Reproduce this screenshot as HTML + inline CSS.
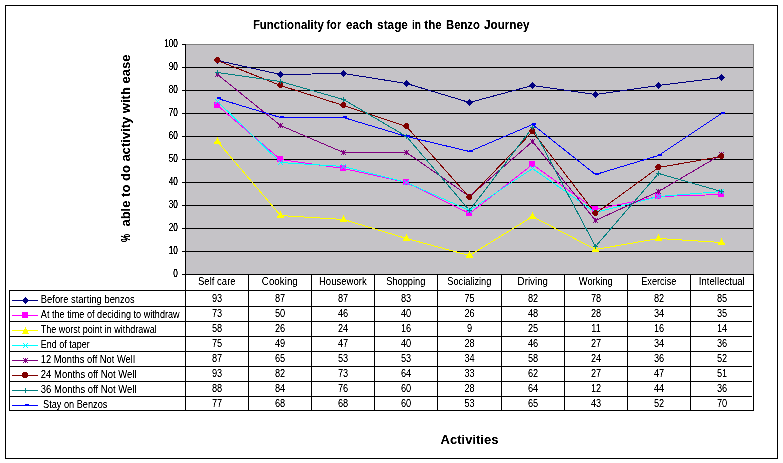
<!DOCTYPE html><html><head><meta charset="utf-8"><title>Functionality for each stage in the Benzo Journey</title>
<style>html,body{margin:0;padding:0;background:#fff;width:783px;height:463px;overflow:hidden}svg{display:block;will-change:transform}text{font-family:"Liberation Sans",Arial,sans-serif;fill:#000}</style></head><body>
<svg width="783" height="463" viewBox="0 0 783 463" shape-rendering="crispEdges">
<defs><filter id="a" filterUnits="userSpaceOnUse" x="0" y="0" width="783" height="463"><feComponentTransfer><feFuncA type="linear" slope="2" intercept="-0.4"/></feComponentTransfer></filter><filter id="b" filterUnits="userSpaceOnUse" x="0" y="0" width="783" height="463"><feComponentTransfer><feFuncA type="linear" slope="3" intercept="-0.5"/></feComponentTransfer></filter></defs>
<rect x="5.5" y="5.5" width="772" height="453" fill="#fff" stroke="#000" stroke-width="1"/>
<rect x="185" y="44" width="568" height="230" fill="#C5C3C7"/>
<path d="M185,44.5H753.5M753.5,44V274" stroke="#808080" stroke-width="1" fill="none"/>
<path d="M185,67.5H753M185,90.5H753M185,113.5H753M185,136.5H753M185,159.5H753M185,182.5H753M185,205.5H753M185,228.5H753M185,251.5H753" stroke="#000" stroke-width="1" fill="none" shape-rendering="crispEdges"/>
<polyline points="217.5,60.5 280.5,74.5 343.5,73.5 406.5,83.5 469.5,102.5 532.5,85.5 595.5,94.5 658.5,85.5 721.5,77.5" fill="none" stroke="#000080" stroke-width="1" shape-rendering="crispEdges"/>
<polyline points="217.5,105.5 280.5,159.5 343.5,168.5 406.5,182.5 469.5,213.5 532.5,164.5 595.5,209.5 658.5,196.5 721.5,194.5" fill="none" stroke="#FF00FF" stroke-width="1" shape-rendering="crispEdges"/>
<polyline points="217.5,141.5 280.5,215.5 343.5,219.5 406.5,238.5 469.5,255.5 532.5,216.5 595.5,249.5 658.5,238.5 721.5,242.5" fill="none" stroke="#FFFF00" stroke-width="1" shape-rendering="crispEdges"/>
<polyline points="217.5,101.5 280.5,162.5 343.5,166.5 406.5,182.5 469.5,210.5 532.5,168.5 595.5,212.5 658.5,196.5 721.5,191.5" fill="none" stroke="#00FFFF" stroke-width="1" shape-rendering="crispEdges"/>
<polyline points="217.5,74.5 280.5,125.5 343.5,152.5 406.5,152.5 469.5,196.5 532.5,141.5 595.5,220.5 658.5,191.5 721.5,154.5" fill="none" stroke="#800080" stroke-width="1" shape-rendering="crispEdges"/>
<polyline points="217.5,60.5 280.5,85.5 343.5,105.5 406.5,126.5 469.5,197.5 532.5,131.5 595.5,213.5 658.5,167.5 721.5,156.5" fill="none" stroke="#800000" stroke-width="1" shape-rendering="crispEdges"/>
<polyline points="217.5,72.5 280.5,81.5 343.5,99.5 406.5,136.5 469.5,210.5 532.5,127.5 595.5,246.5 658.5,173.5 721.5,191.5" fill="none" stroke="#008080" stroke-width="1" shape-rendering="crispEdges"/>
<polyline points="217.5,98.5 280.5,117.5 343.5,117.5 406.5,136.5 469.5,151.5 532.5,124.5 595.5,174.5 658.5,155.5 721.5,113.5" fill="none" stroke="#0000FF" stroke-width="1" shape-rendering="crispEdges"/>
<path d="M217,57h1v1h-1zM216,58h3v1h-3zM215,59h5v1h-5zM214,60h7v1h-7zM215,61h5v1h-5zM216,62h3v1h-3zM217,63h1v1h-1z" fill="#000080"/>
<path d="M280,71h1v1h-1zM279,72h3v1h-3zM278,73h5v1h-5zM277,74h7v1h-7zM278,75h5v1h-5zM279,76h3v1h-3zM280,77h1v1h-1z" fill="#000080"/>
<path d="M343,70h1v1h-1zM342,71h3v1h-3zM341,72h5v1h-5zM340,73h7v1h-7zM341,74h5v1h-5zM342,75h3v1h-3zM343,76h1v1h-1z" fill="#000080"/>
<path d="M406,80h1v1h-1zM405,81h3v1h-3zM404,82h5v1h-5zM403,83h7v1h-7zM404,84h5v1h-5zM405,85h3v1h-3zM406,86h1v1h-1z" fill="#000080"/>
<path d="M469,99h1v1h-1zM468,100h3v1h-3zM467,101h5v1h-5zM466,102h7v1h-7zM467,103h5v1h-5zM468,104h3v1h-3zM469,105h1v1h-1z" fill="#000080"/>
<path d="M532,82h1v1h-1zM531,83h3v1h-3zM530,84h5v1h-5zM529,85h7v1h-7zM530,86h5v1h-5zM531,87h3v1h-3zM532,88h1v1h-1z" fill="#000080"/>
<path d="M595,91h1v1h-1zM594,92h3v1h-3zM593,93h5v1h-5zM592,94h7v1h-7zM593,95h5v1h-5zM594,96h3v1h-3zM595,97h1v1h-1z" fill="#000080"/>
<path d="M658,82h1v1h-1zM657,83h3v1h-3zM656,84h5v1h-5zM655,85h7v1h-7zM656,86h5v1h-5zM657,87h3v1h-3zM658,88h1v1h-1z" fill="#000080"/>
<path d="M721,74h1v1h-1zM720,75h3v1h-3zM719,76h5v1h-5zM718,77h7v1h-7zM719,78h5v1h-5zM720,79h3v1h-3zM721,80h1v1h-1z" fill="#000080"/>
<path d="M214,102h6v6h-6z" fill="#FF00FF"/>
<path d="M277,156h6v6h-6z" fill="#FF00FF"/>
<path d="M340,165h6v6h-6z" fill="#FF00FF"/>
<path d="M403,179h6v6h-6z" fill="#FF00FF"/>
<path d="M466,210h6v6h-6z" fill="#FF00FF"/>
<path d="M529,161h6v6h-6z" fill="#FF00FF"/>
<path d="M592,206h6v6h-6z" fill="#FF00FF"/>
<path d="M655,193h6v6h-6z" fill="#FF00FF"/>
<path d="M718,191h6v6h-6z" fill="#FF00FF"/>
<path d="M217,137h1v1h-1zM217,138h1v1h-1zM216,139h3v1h-3zM216,140h3v1h-3zM215,141h5v1h-5zM214,142h7v1h-7zM214,143h7v1h-7z" fill="#FFFF00"/>
<path d="M280,211h1v1h-1zM280,212h1v1h-1zM279,213h3v1h-3zM279,214h3v1h-3zM278,215h5v1h-5zM277,216h7v1h-7zM277,217h7v1h-7z" fill="#FFFF00"/>
<path d="M343,215h1v1h-1zM343,216h1v1h-1zM342,217h3v1h-3zM342,218h3v1h-3zM341,219h5v1h-5zM340,220h7v1h-7zM340,221h7v1h-7z" fill="#FFFF00"/>
<path d="M406,234h1v1h-1zM406,235h1v1h-1zM405,236h3v1h-3zM405,237h3v1h-3zM404,238h5v1h-5zM403,239h7v1h-7zM403,240h7v1h-7z" fill="#FFFF00"/>
<path d="M469,251h1v1h-1zM469,252h1v1h-1zM468,253h3v1h-3zM468,254h3v1h-3zM467,255h5v1h-5zM466,256h7v1h-7zM466,257h7v1h-7z" fill="#FFFF00"/>
<path d="M532,212h1v1h-1zM532,213h1v1h-1zM531,214h3v1h-3zM531,215h3v1h-3zM530,216h5v1h-5zM529,217h7v1h-7zM529,218h7v1h-7z" fill="#FFFF00"/>
<path d="M595,245h1v1h-1zM595,246h1v1h-1zM594,247h3v1h-3zM594,248h3v1h-3zM593,249h5v1h-5zM592,250h7v1h-7zM592,251h7v1h-7z" fill="#FFFF00"/>
<path d="M658,234h1v1h-1zM658,235h1v1h-1zM657,236h3v1h-3zM657,237h3v1h-3zM656,238h5v1h-5zM655,239h7v1h-7zM655,240h7v1h-7z" fill="#FFFF00"/>
<path d="M721,238h1v1h-1zM721,239h1v1h-1zM720,240h3v1h-3zM720,241h3v1h-3zM719,242h5v1h-5zM718,243h7v1h-7zM718,244h7v1h-7z" fill="#FFFF00"/>
<path d="M215,99h1v1h-1zM215,103h1v1h-1zM216,100h1v1h-1zM216,102h1v1h-1zM217,101h1v1h-1zM217,101h1v1h-1zM218,102h1v1h-1zM218,100h1v1h-1zM219,103h1v1h-1zM219,99h1v1h-1z" fill="#00FFFF"/>
<path d="M278,160h1v1h-1zM278,164h1v1h-1zM279,161h1v1h-1zM279,163h1v1h-1zM280,162h1v1h-1zM280,162h1v1h-1zM281,163h1v1h-1zM281,161h1v1h-1zM282,164h1v1h-1zM282,160h1v1h-1z" fill="#00FFFF"/>
<path d="M341,164h1v1h-1zM341,168h1v1h-1zM342,165h1v1h-1zM342,167h1v1h-1zM343,166h1v1h-1zM343,166h1v1h-1zM344,167h1v1h-1zM344,165h1v1h-1zM345,168h1v1h-1zM345,164h1v1h-1z" fill="#00FFFF"/>
<path d="M404,180h1v1h-1zM404,184h1v1h-1zM405,181h1v1h-1zM405,183h1v1h-1zM406,182h1v1h-1zM406,182h1v1h-1zM407,183h1v1h-1zM407,181h1v1h-1zM408,184h1v1h-1zM408,180h1v1h-1z" fill="#00FFFF"/>
<path d="M467,208h1v1h-1zM467,212h1v1h-1zM468,209h1v1h-1zM468,211h1v1h-1zM469,210h1v1h-1zM469,210h1v1h-1zM470,211h1v1h-1zM470,209h1v1h-1zM471,212h1v1h-1zM471,208h1v1h-1z" fill="#00FFFF"/>
<path d="M530,166h1v1h-1zM530,170h1v1h-1zM531,167h1v1h-1zM531,169h1v1h-1zM532,168h1v1h-1zM532,168h1v1h-1zM533,169h1v1h-1zM533,167h1v1h-1zM534,170h1v1h-1zM534,166h1v1h-1z" fill="#00FFFF"/>
<path d="M593,210h1v1h-1zM593,214h1v1h-1zM594,211h1v1h-1zM594,213h1v1h-1zM595,212h1v1h-1zM595,212h1v1h-1zM596,213h1v1h-1zM596,211h1v1h-1zM597,214h1v1h-1zM597,210h1v1h-1z" fill="#00FFFF"/>
<path d="M656,194h1v1h-1zM656,198h1v1h-1zM657,195h1v1h-1zM657,197h1v1h-1zM658,196h1v1h-1zM658,196h1v1h-1zM659,197h1v1h-1zM659,195h1v1h-1zM660,198h1v1h-1zM660,194h1v1h-1z" fill="#00FFFF"/>
<path d="M719,189h1v1h-1zM719,193h1v1h-1zM720,190h1v1h-1zM720,192h1v1h-1zM721,191h1v1h-1zM721,191h1v1h-1zM722,192h1v1h-1zM722,190h1v1h-1zM723,193h1v1h-1zM723,189h1v1h-1z" fill="#00FFFF"/>
<path d="M215,72h1v1h-1zM215,76h1v1h-1zM217,72h1v1h-1zM217,76h1v1h-1zM219,72h1v1h-1zM219,76h1v1h-1zM216,73h3v3h-3z" fill="#800080"/>
<path d="M278,123h1v1h-1zM278,127h1v1h-1zM280,123h1v1h-1zM280,127h1v1h-1zM282,123h1v1h-1zM282,127h1v1h-1zM279,124h3v3h-3z" fill="#800080"/>
<path d="M341,150h1v1h-1zM341,154h1v1h-1zM343,150h1v1h-1zM343,154h1v1h-1zM345,150h1v1h-1zM345,154h1v1h-1zM342,151h3v3h-3z" fill="#800080"/>
<path d="M404,150h1v1h-1zM404,154h1v1h-1zM406,150h1v1h-1zM406,154h1v1h-1zM408,150h1v1h-1zM408,154h1v1h-1zM405,151h3v3h-3z" fill="#800080"/>
<path d="M467,194h1v1h-1zM467,198h1v1h-1zM469,194h1v1h-1zM469,198h1v1h-1zM471,194h1v1h-1zM471,198h1v1h-1zM468,195h3v3h-3z" fill="#800080"/>
<path d="M530,139h1v1h-1zM530,143h1v1h-1zM532,139h1v1h-1zM532,143h1v1h-1zM534,139h1v1h-1zM534,143h1v1h-1zM531,140h3v3h-3z" fill="#800080"/>
<path d="M593,218h1v1h-1zM593,222h1v1h-1zM595,218h1v1h-1zM595,222h1v1h-1zM597,218h1v1h-1zM597,222h1v1h-1zM594,219h3v3h-3z" fill="#800080"/>
<path d="M656,189h1v1h-1zM656,193h1v1h-1zM658,189h1v1h-1zM658,193h1v1h-1zM660,189h1v1h-1zM660,193h1v1h-1zM657,190h3v3h-3z" fill="#800080"/>
<path d="M719,152h1v1h-1zM719,156h1v1h-1zM721,152h1v1h-1zM721,156h1v1h-1zM723,152h1v1h-1zM723,156h1v1h-1zM720,153h3v3h-3z" fill="#800080"/>
<path d="M216,57h3v1h-3zM215,58h5v1h-5zM214,59h6v1h-6zM214,60h6v1h-6zM215,61h5v1h-5zM216,62h3v1h-3z" fill="#800000"/>
<path d="M279,82h3v1h-3zM278,83h5v1h-5zM277,84h6v1h-6zM277,85h6v1h-6zM278,86h5v1h-5zM279,87h3v1h-3z" fill="#800000"/>
<path d="M342,102h3v1h-3zM341,103h5v1h-5zM340,104h6v1h-6zM340,105h6v1h-6zM341,106h5v1h-5zM342,107h3v1h-3z" fill="#800000"/>
<path d="M405,123h3v1h-3zM404,124h5v1h-5zM403,125h6v1h-6zM403,126h6v1h-6zM404,127h5v1h-5zM405,128h3v1h-3z" fill="#800000"/>
<path d="M468,194h3v1h-3zM467,195h5v1h-5zM466,196h6v1h-6zM466,197h6v1h-6zM467,198h5v1h-5zM468,199h3v1h-3z" fill="#800000"/>
<path d="M531,128h3v1h-3zM530,129h5v1h-5zM529,130h6v1h-6zM529,131h6v1h-6zM530,132h5v1h-5zM531,133h3v1h-3z" fill="#800000"/>
<path d="M594,210h3v1h-3zM593,211h5v1h-5zM592,212h6v1h-6zM592,213h6v1h-6zM593,214h5v1h-5zM594,215h3v1h-3z" fill="#800000"/>
<path d="M657,164h3v1h-3zM656,165h5v1h-5zM655,166h6v1h-6zM655,167h6v1h-6zM656,168h5v1h-5zM657,169h3v1h-3z" fill="#800000"/>
<path d="M720,153h3v1h-3zM719,154h5v1h-5zM718,155h6v1h-6zM718,156h6v1h-6zM719,157h5v1h-5zM720,158h3v1h-3z" fill="#800000"/>
<path d="M217,70h1v5h-1zM215,72h5v1h-5z" fill="#008080"/>
<path d="M280,79h1v5h-1zM278,81h5v1h-5z" fill="#008080"/>
<path d="M343,97h1v5h-1zM341,99h5v1h-5z" fill="#008080"/>
<path d="M406,134h1v5h-1zM404,136h5v1h-5z" fill="#008080"/>
<path d="M469,208h1v5h-1zM467,210h5v1h-5z" fill="#008080"/>
<path d="M532,125h1v5h-1zM530,127h5v1h-5z" fill="#008080"/>
<path d="M595,244h1v5h-1zM593,246h5v1h-5z" fill="#008080"/>
<path d="M658,171h1v5h-1zM656,173h5v1h-5z" fill="#008080"/>
<path d="M721,189h1v5h-1zM719,191h5v1h-5z" fill="#008080"/>
<path d="M217,97h4v2h-4z" fill="#0000FF"/>
<path d="M280,116h4v2h-4z" fill="#0000FF"/>
<path d="M343,116h4v2h-4z" fill="#0000FF"/>
<path d="M406,135h4v2h-4z" fill="#0000FF"/>
<path d="M469,150h4v2h-4z" fill="#0000FF"/>
<path d="M532,123h4v2h-4z" fill="#0000FF"/>
<path d="M595,173h4v2h-4z" fill="#0000FF"/>
<path d="M658,154h4v2h-4z" fill="#0000FF"/>
<path d="M721,112h4v2h-4z" fill="#0000FF"/>
<path d="M185.5,44V411M185,274.5H754M182,44.5H185M182,67.5H185M182,90.5H185M182,113.5H185M182,136.5H185M182,159.5H185M182,182.5H185M182,205.5H185M182,228.5H185M182,251.5H185M182,274.5H185M9,290.5H754M9,306.5H752M9,321.5H752M9,336.5H752M9,351.5H752M9,366.5H752M9,381.5H752M9,396.5H752M9,410.5H754M9.5,290V411M248.5,274V411M311.5,274V411M374.5,274V411M437.5,274V411M501.5,274V411M564.5,274V411M627.5,274V411M690.5,274V411M753.5,274V411" stroke="#000" stroke-width="1" fill="none" shape-rendering="crispEdges"/>
<path d="M12,300.5H38" stroke="#000080" stroke-width="1" shape-rendering="crispEdges"/>
<path d="M25,297h1v1h-1zM24,298h3v1h-3zM23,299h5v1h-5zM22,300h7v1h-7zM23,301h5v1h-5zM24,302h3v1h-3zM25,303h1v1h-1z" fill="#000080"/>
<path d="M12,315.5H38" stroke="#FF00FF" stroke-width="1" shape-rendering="crispEdges"/>
<rect x="22" y="312" width="6" height="6" fill="#FF00FF" shape-rendering="crispEdges"/>
<path d="M12,330.5H38" stroke="#FFFF00" stroke-width="1" shape-rendering="crispEdges"/>
<polygon points="25.5,327 29,334 22,334" fill="#FFFF00"/>
<path d="M12,345.5H38" stroke="#00FFFF" stroke-width="1" shape-rendering="crispEdges"/>
<path d="M23,343h1v1h-1zM23,347h1v1h-1zM24,344h1v1h-1zM24,346h1v1h-1zM25,345h1v1h-1zM25,345h1v1h-1zM26,346h1v1h-1zM26,344h1v1h-1zM27,347h1v1h-1zM27,343h1v1h-1z" fill="#00FFFF"/>
<path d="M12,360.5H38" stroke="#800080" stroke-width="1" shape-rendering="crispEdges"/>
<path d="M23,358h1v1h-1zM23,362h1v1h-1zM25,358h1v1h-1zM25,362h1v1h-1zM27,358h1v1h-1zM27,362h1v1h-1zM24,359h3v3h-3z" fill="#800080"/>
<path d="M12,375.5H38" stroke="#800000" stroke-width="1" shape-rendering="crispEdges"/>
<circle cx="25" cy="375" r="3" fill="#800000"/>
<path d="M12,390.5H38" stroke="#008080" stroke-width="1" shape-rendering="crispEdges"/>
<path d="M25,388h1v5h-1zM23,390h5v1h-5z" fill="#008080"/>
<path d="M12,405.5H38" stroke="#0000FF" stroke-width="1" shape-rendering="crispEdges"/>
<rect x="25" y="404" width="4" height="2" fill="#0000FF" shape-rendering="crispEdges"/>
<g filter="url(#b)">
<text transform="translate(177.9,47) scale(0.82,1)" text-anchor="end" font-size="10">100</text>
<text transform="translate(177.9,70) scale(0.82,1)" text-anchor="end" font-size="10">90</text>
<text transform="translate(177.9,93) scale(0.82,1)" text-anchor="end" font-size="10">80</text>
<text transform="translate(177.9,116) scale(0.82,1)" text-anchor="end" font-size="10">70</text>
<text transform="translate(177.9,139) scale(0.82,1)" text-anchor="end" font-size="10">60</text>
<text transform="translate(177.9,162) scale(0.82,1)" text-anchor="end" font-size="10">50</text>
<text transform="translate(177.9,185) scale(0.82,1)" text-anchor="end" font-size="10">40</text>
<text transform="translate(177.9,208) scale(0.82,1)" text-anchor="end" font-size="10">30</text>
<text transform="translate(177.9,231) scale(0.82,1)" text-anchor="end" font-size="10">20</text>
<text transform="translate(177.9,254) scale(0.82,1)" text-anchor="end" font-size="10">10</text>
<text transform="translate(177.9,277) scale(0.82,1)" text-anchor="end" font-size="10">0</text>
</g>
<g filter="url(#a)">
<text transform="translate(252.90,29) scale(0.877,1)" font-weight="bold" font-size="13">Functionality</text>
<text transform="translate(326.40,29) scale(0.856,1)" font-weight="bold" font-size="13">for</text>
<text transform="translate(346.10,29) scale(0.897,1)" font-weight="bold" font-size="13">each</text>
<text transform="translate(377.10,29) scale(0.909,1)" font-weight="bold" font-size="13">stage</text>
<text transform="translate(411.90,29) scale(0.782,1)" font-weight="bold" font-size="13">in</text>
<text transform="translate(424.30,29) scale(0.885,1)" font-weight="bold" font-size="13">the</text>
<text transform="translate(446.00,29) scale(0.869,1)" font-weight="bold" font-size="13">Benzo</text>
<text transform="translate(484.00,29) scale(0.900,1)" font-weight="bold" font-size="13">Journey</text>
<text transform="translate(129.5,242) rotate(-90) scale(0.7,1)" font-weight="bold" font-size="13">%</text>
<text transform="translate(129.5,54.6) rotate(-90)" text-anchor="end" font-weight="bold" font-size="13">able to do activity with ease</text>
<text x="469.5" y="444" text-anchor="middle" font-weight="bold" font-size="13">Activities</text>
<text transform="translate(216.8,285) scale(0.9550,1)" text-anchor="middle" font-size="10">Self care</text>
<text transform="translate(279.8,285) scale(0.9830,1)" text-anchor="middle" font-size="10">Cooking</text>
<text transform="translate(342.8,285) scale(0.9550,1)" text-anchor="middle" font-size="10">Housework</text>
<text transform="translate(405.8,285) scale(0.9260,1)" text-anchor="middle" font-size="10">Shopping</text>
<text transform="translate(469.3,285) scale(0.9230,1)" text-anchor="middle" font-size="10">Socializing</text>
<text transform="translate(532.8,285) scale(0.9790,1)" text-anchor="middle" font-size="10">Driving</text>
<text transform="translate(595.8,285) scale(0.9300,1)" text-anchor="middle" font-size="10">Working</text>
<text transform="translate(658.8,285) scale(0.9150,1)" text-anchor="middle" font-size="10">Exercise</text>
<text transform="translate(721.8,285) scale(0.9600,1)" text-anchor="middle" font-size="10">Intellectual</text>
<text transform="translate(217.1,302) scale(0.92,1)" text-anchor="middle" font-size="10">93</text>
<text transform="translate(280.1,302) scale(0.92,1)" text-anchor="middle" font-size="10">87</text>
<text transform="translate(343.1,302) scale(0.92,1)" text-anchor="middle" font-size="10">87</text>
<text transform="translate(406.1,302) scale(0.92,1)" text-anchor="middle" font-size="10">83</text>
<text transform="translate(469.6,302) scale(0.92,1)" text-anchor="middle" font-size="10">75</text>
<text transform="translate(533.1,302) scale(0.92,1)" text-anchor="middle" font-size="10">82</text>
<text transform="translate(596.1,302) scale(0.92,1)" text-anchor="middle" font-size="10">78</text>
<text transform="translate(659.1,302) scale(0.92,1)" text-anchor="middle" font-size="10">82</text>
<text transform="translate(722.1,302) scale(0.92,1)" text-anchor="middle" font-size="10">85</text>
<text transform="translate(40.8,303) scale(0.94,1)" font-size="10">Before starting benzos</text>
<text transform="translate(217.1,317) scale(0.92,1)" text-anchor="middle" font-size="10">73</text>
<text transform="translate(280.1,317) scale(0.92,1)" text-anchor="middle" font-size="10">50</text>
<text transform="translate(343.1,317) scale(0.92,1)" text-anchor="middle" font-size="10">46</text>
<text transform="translate(406.1,317) scale(0.92,1)" text-anchor="middle" font-size="10">40</text>
<text transform="translate(469.6,317) scale(0.92,1)" text-anchor="middle" font-size="10">26</text>
<text transform="translate(533.1,317) scale(0.92,1)" text-anchor="middle" font-size="10">48</text>
<text transform="translate(596.1,317) scale(0.92,1)" text-anchor="middle" font-size="10">28</text>
<text transform="translate(659.1,317) scale(0.92,1)" text-anchor="middle" font-size="10">34</text>
<text transform="translate(722.1,317) scale(0.92,1)" text-anchor="middle" font-size="10">35</text>
<text transform="translate(40.8,318) scale(0.913,1)" font-size="10">At the time of deciding to withdraw</text>
<text transform="translate(217.1,332) scale(0.92,1)" text-anchor="middle" font-size="10">58</text>
<text transform="translate(280.1,332) scale(0.92,1)" text-anchor="middle" font-size="10">26</text>
<text transform="translate(343.1,332) scale(0.92,1)" text-anchor="middle" font-size="10">24</text>
<text transform="translate(406.1,332) scale(0.92,1)" text-anchor="middle" font-size="10">16</text>
<text transform="translate(469.6,332) scale(0.92,1)" text-anchor="middle" font-size="10">9</text>
<text transform="translate(533.1,332) scale(0.92,1)" text-anchor="middle" font-size="10">25</text>
<text transform="translate(596.1,332) scale(0.92,1)" text-anchor="middle" font-size="10">11</text>
<text transform="translate(659.1,332) scale(0.92,1)" text-anchor="middle" font-size="10">16</text>
<text transform="translate(722.1,332) scale(0.92,1)" text-anchor="middle" font-size="10">14</text>
<text transform="translate(40.8,333) scale(0.9,1)" font-size="10">The worst point in withdrawal</text>
<text transform="translate(217.1,347) scale(0.92,1)" text-anchor="middle" font-size="10">75</text>
<text transform="translate(280.1,347) scale(0.92,1)" text-anchor="middle" font-size="10">49</text>
<text transform="translate(343.1,347) scale(0.92,1)" text-anchor="middle" font-size="10">47</text>
<text transform="translate(406.1,347) scale(0.92,1)" text-anchor="middle" font-size="10">40</text>
<text transform="translate(469.6,347) scale(0.92,1)" text-anchor="middle" font-size="10">28</text>
<text transform="translate(533.1,347) scale(0.92,1)" text-anchor="middle" font-size="10">46</text>
<text transform="translate(596.1,347) scale(0.92,1)" text-anchor="middle" font-size="10">27</text>
<text transform="translate(659.1,347) scale(0.92,1)" text-anchor="middle" font-size="10">34</text>
<text transform="translate(722.1,347) scale(0.92,1)" text-anchor="middle" font-size="10">36</text>
<text transform="translate(40.8,348) scale(0.901,1)" font-size="10">End of taper</text>
<text transform="translate(217.1,362) scale(0.92,1)" text-anchor="middle" font-size="10">87</text>
<text transform="translate(280.1,362) scale(0.92,1)" text-anchor="middle" font-size="10">65</text>
<text transform="translate(343.1,362) scale(0.92,1)" text-anchor="middle" font-size="10">53</text>
<text transform="translate(406.1,362) scale(0.92,1)" text-anchor="middle" font-size="10">53</text>
<text transform="translate(469.6,362) scale(0.92,1)" text-anchor="middle" font-size="10">34</text>
<text transform="translate(533.1,362) scale(0.92,1)" text-anchor="middle" font-size="10">58</text>
<text transform="translate(596.1,362) scale(0.92,1)" text-anchor="middle" font-size="10">24</text>
<text transform="translate(659.1,362) scale(0.92,1)" text-anchor="middle" font-size="10">36</text>
<text transform="translate(722.1,362) scale(0.92,1)" text-anchor="middle" font-size="10">52</text>
<text transform="translate(40.8,363) scale(0.935,1)" font-size="10">12 Months off Not Well</text>
<text transform="translate(217.1,377) scale(0.92,1)" text-anchor="middle" font-size="10">93</text>
<text transform="translate(280.1,377) scale(0.92,1)" text-anchor="middle" font-size="10">82</text>
<text transform="translate(343.1,377) scale(0.92,1)" text-anchor="middle" font-size="10">73</text>
<text transform="translate(406.1,377) scale(0.92,1)" text-anchor="middle" font-size="10">64</text>
<text transform="translate(469.6,377) scale(0.92,1)" text-anchor="middle" font-size="10">33</text>
<text transform="translate(533.1,377) scale(0.92,1)" text-anchor="middle" font-size="10">62</text>
<text transform="translate(596.1,377) scale(0.92,1)" text-anchor="middle" font-size="10">27</text>
<text transform="translate(659.1,377) scale(0.92,1)" text-anchor="middle" font-size="10">47</text>
<text transform="translate(722.1,377) scale(0.92,1)" text-anchor="middle" font-size="10">51</text>
<text transform="translate(40.8,378) scale(0.95,1)" font-size="10">24 Months off Not Well</text>
<text transform="translate(217.1,392) scale(0.92,1)" text-anchor="middle" font-size="10">88</text>
<text transform="translate(280.1,392) scale(0.92,1)" text-anchor="middle" font-size="10">84</text>
<text transform="translate(343.1,392) scale(0.92,1)" text-anchor="middle" font-size="10">76</text>
<text transform="translate(406.1,392) scale(0.92,1)" text-anchor="middle" font-size="10">60</text>
<text transform="translate(469.6,392) scale(0.92,1)" text-anchor="middle" font-size="10">28</text>
<text transform="translate(533.1,392) scale(0.92,1)" text-anchor="middle" font-size="10">64</text>
<text transform="translate(596.1,392) scale(0.92,1)" text-anchor="middle" font-size="10">12</text>
<text transform="translate(659.1,392) scale(0.92,1)" text-anchor="middle" font-size="10">44</text>
<text transform="translate(722.1,392) scale(0.92,1)" text-anchor="middle" font-size="10">36</text>
<text transform="translate(40.8,393) scale(0.95,1)" font-size="10">36 Months off Not Well</text>
<text transform="translate(217.1,407) scale(0.92,1)" text-anchor="middle" font-size="10">77</text>
<text transform="translate(280.1,407) scale(0.92,1)" text-anchor="middle" font-size="10">68</text>
<text transform="translate(343.1,407) scale(0.92,1)" text-anchor="middle" font-size="10">68</text>
<text transform="translate(406.1,407) scale(0.92,1)" text-anchor="middle" font-size="10">60</text>
<text transform="translate(469.6,407) scale(0.92,1)" text-anchor="middle" font-size="10">53</text>
<text transform="translate(533.1,407) scale(0.92,1)" text-anchor="middle" font-size="10">65</text>
<text transform="translate(596.1,407) scale(0.92,1)" text-anchor="middle" font-size="10">43</text>
<text transform="translate(659.1,407) scale(0.92,1)" text-anchor="middle" font-size="10">52</text>
<text transform="translate(722.1,407) scale(0.92,1)" text-anchor="middle" font-size="10">70</text>
<text transform="translate(43,408) scale(0.92,1)" font-size="10">Stay on Benzos</text>
</g>
</svg></body></html>
